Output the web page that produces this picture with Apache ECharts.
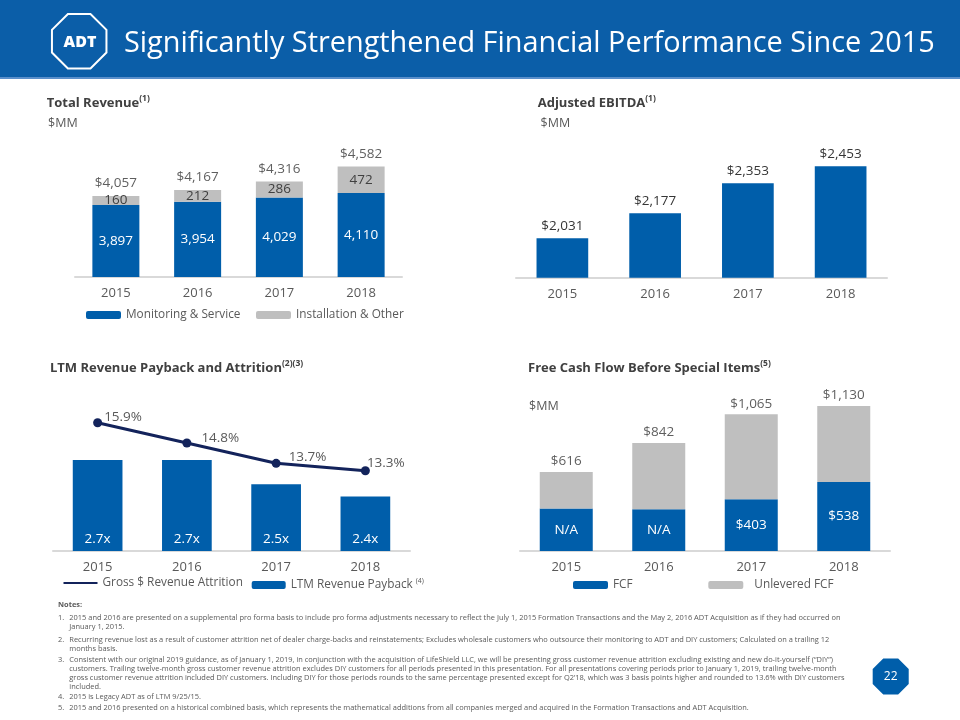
<!DOCTYPE html>
<html><head><meta charset="utf-8">
<script src="https://cdn.jsdelivr.net/npm/echarts@6/dist/echarts.min.js"></script>
<style>html,body{margin:0;padding:0;background:#fff}#c{width:960px;height:720px}</style>
</head><body><div id="c"></div>
<script>
// ---------- data ----------
const years = ['2015', '2016', '2017', '2018'];
const monitoringService = [3897, 3954, 4029, 4110];
const installationOther = [160, 212, 286, 472];
const totalRevenue = [4057, 4167, 4316, 4582];
const adjustedEbitda = [2031, 2177, 2353, 2453];
const revenuePayback = [2.7, 2.7, 2.5, 2.4];
const grossAttrition = [15.9, 14.8, 13.7, 13.3];
const fcfReported = [null, null, 403, 538];        // N/A for 2015, 2016
const fcfBarHeight = [332, 325, 403, 538];         // drawn height of FCF bars (N/A years estimated)
const unleveredFcf = [616, 842, 1065, 1130];
const notesLines = [
  ['1.', '2015 and 2016 are presented on a supplemental pro forma basis to include pro forma adjustments necessary to reflect the July 1, 2015 Formation Transactions and the May 2, 2016 ADT Acquisition as if they had occurred on'],
  ['', 'January 1, 2015.'],
  ['2.', 'Recurring revenue lost as a result of customer attrition net of dealer charge-backs and reinstatements; Excludes wholesale customers who outsource their monitoring to ADT and DIY customers; Calculated on a trailing 12'],
  ['', 'months basis.'],
  ['3.', 'Consistent with our original 2019 guidance, as of January 1, 2019, in conjunction with the acquisition of LifeShield LLC, we will be presenting gross customer revenue attrition excluding existing and new do-it-yourself (\u201cDIY\u201d)'],
  ['', 'customers. Trailing twelve-month gross customer revenue attrition excludes DIY customers for all periods presented in this presentation. For all presentations covering periods prior to January 1, 2019, trailing twelve-month'],
  ['', 'gross customer revenue attrition included DIY customers. Including DIY for those periods rounds to the same percentage presented except for Q2\u201918, which was 3 basis points higher and rounded to 13.6% with DIY customers'],
  ['', 'included.'],
  ['4.', '2015 is Legacy ADT as of LTM 9/25/15.'],
  ['5.', '2015 and 2016 presented on a historical combined basis, which represents the mathematical additions from all companies merged and acquired in the Formation Transactions and ADT Acquisition.']
];

// ---------- style ----------
const FONT = "'Open Sans', 'Noto Sans', sans-serif";
const BLUE = '#005eaa';
const GRAY = '#bfbfbf';
const NAVY = '#13235b';
const TXT = '#363636';
const TXT2 = '#595959';
const VAL = 13.5;   // value label size
const LEG = 11.8;   // legend size
const noteY = [618, 627.3, 639.7, 649, 659.7, 668.7, 678, 687.3, 697.3, 708];
const attritionLabelOffsets = [[-3, -6], [5, -5], [3, -6], [-8, -8]];

function fitSize(text, weight, targetWidth) {
  const ctx = document.createElement('canvas').getContext('2d');
  ctx.font = weight + ' 100px ' + FONT;
  return 100 * targetWidth / ctx.measureText(text).width;
}
const fmt = v => v.toLocaleString('en-US');
const unleveredExtra = unleveredFcf.map((v, i) => v - fcfBarHeight[i]);

function octagon(cx, cy, r) {
  const pts = [];
  for (let k = 0; k < 8; k++) {
    const a = (22.5 + 45 * k) * Math.PI / 180;
    pts.push([cx + r * Math.cos(a), cy + r * Math.sin(a)]);
  }
  return pts;
}

const titleSize = fitSize('Significantly Strengthened Financial Performance Since 2015', 'normal', 811);
const noteSize = fitSize(notesLines[0][1], 'normal', 772);

function sectionTitle(x, y, main, sup) {
  return {
    type: 'text', x: x, y: y, silent: true,
    style: {
      text: '{b|' + main + '}{s|' + sup + '}', verticalAlign: 'middle',
      rich: {
        b: { fontSize: 13, fontWeight: 'bold', fontFamily: FONT, fill: '#404040', lineHeight: 18 },
        s: { fontSize: 8.5, fontWeight: 'bold', fontFamily: FONT, fill: '#404040', verticalAlign: 'top', lineHeight: 12 }
      }
    }
  };
}
function plainText(x, y, text, size, color, weight) {
  return { type: 'text', x: x, y: y, silent: true,
    style: { text: text, fontSize: size, fontFamily: FONT, fontWeight: weight || 'normal', fill: color, verticalAlign: 'middle' } };
}

const graphic = [
  { type: 'rect', silent: true, shape: { x: 0, y: 0, width: 960, height: 77 }, style: { fill: '#0b5ea8' } },
  { type: 'rect', silent: true, shape: { x: 0, y: 77, width: 960, height: 2 }, style: { fill: '#5a8fcb' } },
  { type: 'polygon', silent: true, shape: { points: octagon(79.2, 41.2, 29.5) }, style: { fill: 'none', stroke: '#fff', lineWidth: 2 } },
  { type: 'text', silent: true, x: 80, y: 42, style: { text: 'ADT', fontSize: 16, fontWeight: 900, fontFamily: FONT, fill: '#fff', align: 'center', verticalAlign: 'middle' } },
  { type: 'text', silent: true, x: 124, y: 44, style: { text: 'Significantly Strengthened Financial Performance Since 2015', fontSize: titleSize, fontFamily: FONT, fill: '#fff', verticalAlign: 'middle' } },
  sectionTitle(46.7, 103, 'Total Revenue', '(1)'),
  plainText(48, 123, '$MM', 12.5, TXT2),
  sectionTitle(537.7, 103, 'Adjusted EBITDA', '(1)'),
  plainText(540.5, 123, '$MM', 12.5, TXT2),
  sectionTitle(50, 368, 'LTM Revenue Payback and Attrition', '(2)(3)'),
  sectionTitle(528, 368, 'Free Cash Flow Before Special Items', '(5)'),
  plainText(529, 406.7, '$MM', 12.5, TXT2),
  plainText(58, 605.3, 'Notes:', noteSize, TXT2, 'bold'),
  { type: 'polygon', silent: true, shape: { points: octagon(890.7, 676.5, 19.5) }, style: { fill: BLUE } },
  { type: 'text', silent: true, x: 890.7, y: 677, style: { text: '22', fontSize: 12, fontFamily: FONT, fill: '#fff', align: 'center', verticalAlign: 'middle' } }
];
notesLines.forEach((ln, i) => {
  if (ln[0]) graphic.push(plainText(58, noteY[i], ln[0], noteSize, TXT2));
  graphic.push(plainText(69.3, noteY[i], ln[1], noteSize, TXT2));
});

function xAxis(grid) {
  return {
    type: 'category', gridIndex: grid, data: years,
    axisLine: { lineStyle: { color: '#d9d9d9', width: 2 } },
    axisTick: { show: false },
    axisLabel: { color: TXT2, fontSize: 13, margin: 10, fontFamily: FONT }
  };
}
function yAxis(grid, min, max) {
  return { type: 'value', gridIndex: grid, min: min, max: max, startValue: min, show: false, splitLine: { show: false } };
}
function totalLabels(grid, yIdx, values, dist) {
  return {
    type: 'scatter', xAxisIndex: grid, yAxisIndex: yIdx, data: values, symbolSize: 1, silent: true, z: 5,
    itemStyle: { color: 'rgba(0,0,0,0)' },
    label: { show: true, position: 'top', distance: dist, color: TXT, fontSize: VAL, fontFamily: FONT, formatter: p => '$' + fmt(p.value) }
  };
}
const legendBase = { orient: 'horizontal', padding: 0, itemHeight: 8, itemWidth: 35, textStyle: { color: TXT2, fontSize: LEG, fontFamily: FONT } };

const option = {
  animation: false,
  textStyle: { fontFamily: FONT },
  graphic: graphic,
  grid: [
    { left: 75, width: 327, top: 140, height: 137 },
    { left: 516, width: 371, top: 140, height: 137.7 },
    { left: 53, width: 357, top: 400, height: 151 },
    { left: 520, width: 370, top: 390.6, height: 160.4 }
  ],
  xAxis: [xAxis(0), xAxis(1), xAxis(2), xAxis(3)],
  yAxis: [
    yAxis(0, 2615, 5055),
    yAxis(1, 1800, 2607),
    yAxis(2, 1.95, 3.195),
    yAxis(2, 8.95, 17.13),
    yAxis(3, 0, 1250)
  ],
  legend: [
    Object.assign({}, legendBase, { data: ['Monitoring & Service'], left: 86, top: 309 }),
    Object.assign({}, legendBase, { data: ['Installation & Other'], left: 256, top: 309 }),
    Object.assign({}, legendBase, { data: [{ name: 'Gross $ Revenue Attrition', icon: 'rect' }], left: 63.5, top: 577, itemWidth: 34, itemHeight: 2 }),
    Object.assign({}, legendBase, {
      data: ['LTM Revenue Payback'], left: 251.7, top: 577, itemWidth: 34,
      formatter: n => '{a|' + n + '}{s|(4)}',
      textStyle: { color: TXT2, fontSize: LEG, fontFamily: FONT, rich: { a: { fontSize: LEG, color: TXT2, lineHeight: 16 }, s: { fontSize: 7, color: TXT2, verticalAlign: 'top', lineHeight: 9, padding: [0, 0, 0, 3] } } }
    }),
    Object.assign({}, legendBase, { data: ['FCF'], left: 573, top: 579 }),
    Object.assign({}, legendBase, { data: ['Unlevered FCF'], left: 708.3, top: 579, textStyle: { color: TXT2, fontSize: LEG, fontFamily: FONT, padding: [0, 0, 0, 6] } })
  ],
  series: [
    { name: 'Monitoring & Service', type: 'bar', xAxisIndex: 0, yAxisIndex: 0, stack: 'rev', data: monitoringService, barWidth: 47,
      itemStyle: { color: BLUE }, label: { show: true, position: 'inside', color: '#fff', fontSize: VAL, formatter: p => fmt(p.value) } },
    { name: 'Installation & Other', type: 'bar', xAxisIndex: 0, yAxisIndex: 0, stack: 'rev', data: installationOther, barWidth: 47,
      itemStyle: { color: GRAY }, label: { show: true, position: 'inside', color: '#404040', fontSize: VAL, formatter: p => fmt(p.value) } },
    totalLabels(0, 0, totalRevenue, 5),

    { name: 'Adjusted EBITDA', type: 'bar', xAxisIndex: 1, yAxisIndex: 1, data: adjustedEbitda, barWidth: 51.7,
      itemStyle: { color: BLUE }, label: { show: true, position: 'top', distance: 5, color: TXT, fontSize: VAL, formatter: p => '$' + fmt(p.value) } },

    { name: 'LTM Revenue Payback', type: 'bar', xAxisIndex: 2, yAxisIndex: 2, data: revenuePayback, barWidth: 49.7,
      itemStyle: { color: BLUE }, label: { show: true, position: 'insideBottom', distance: 5, color: '#fff', fontSize: VAL, formatter: p => p.value.toFixed(1) + 'x' } },
    { name: 'Gross $ Revenue Attrition', type: 'line', xAxisIndex: 2, yAxisIndex: 3, z: 10,
      data: grossAttrition.map((v, i) => ({ value: v, label: { offset: attritionLabelOffsets[i] } })),
      itemStyle: { color: NAVY }, lineStyle: { color: NAVY, width: 3 }, symbol: 'circle', symbolSize: 9,
      label: { show: true, position: 'right', distance: 5, color: TXT2, fontSize: VAL, formatter: p => p.value.toFixed(1) + '%' } },

    { name: 'FCF', type: 'bar', xAxisIndex: 3, yAxisIndex: 4, stack: 'fcf', data: fcfBarHeight, barWidth: 53,
      itemStyle: { color: BLUE }, label: { show: true, position: 'inside', color: '#fff', fontSize: VAL,
        formatter: p => fcfReported[p.dataIndex] == null ? 'N/A' : '$' + fmt(fcfReported[p.dataIndex]) } },
    { name: 'Unlevered FCF', type: 'bar', xAxisIndex: 3, yAxisIndex: 4, stack: 'fcf', data: unleveredExtra, barWidth: 53,
      itemStyle: { color: GRAY } },
    totalLabels(3, 4, unleveredFcf, 3)
  ]
};
const chart = echarts.init(document.getElementById('c'), null, { renderer: 'canvas' });
chart.setOption(option);
</script>
</body></html>
